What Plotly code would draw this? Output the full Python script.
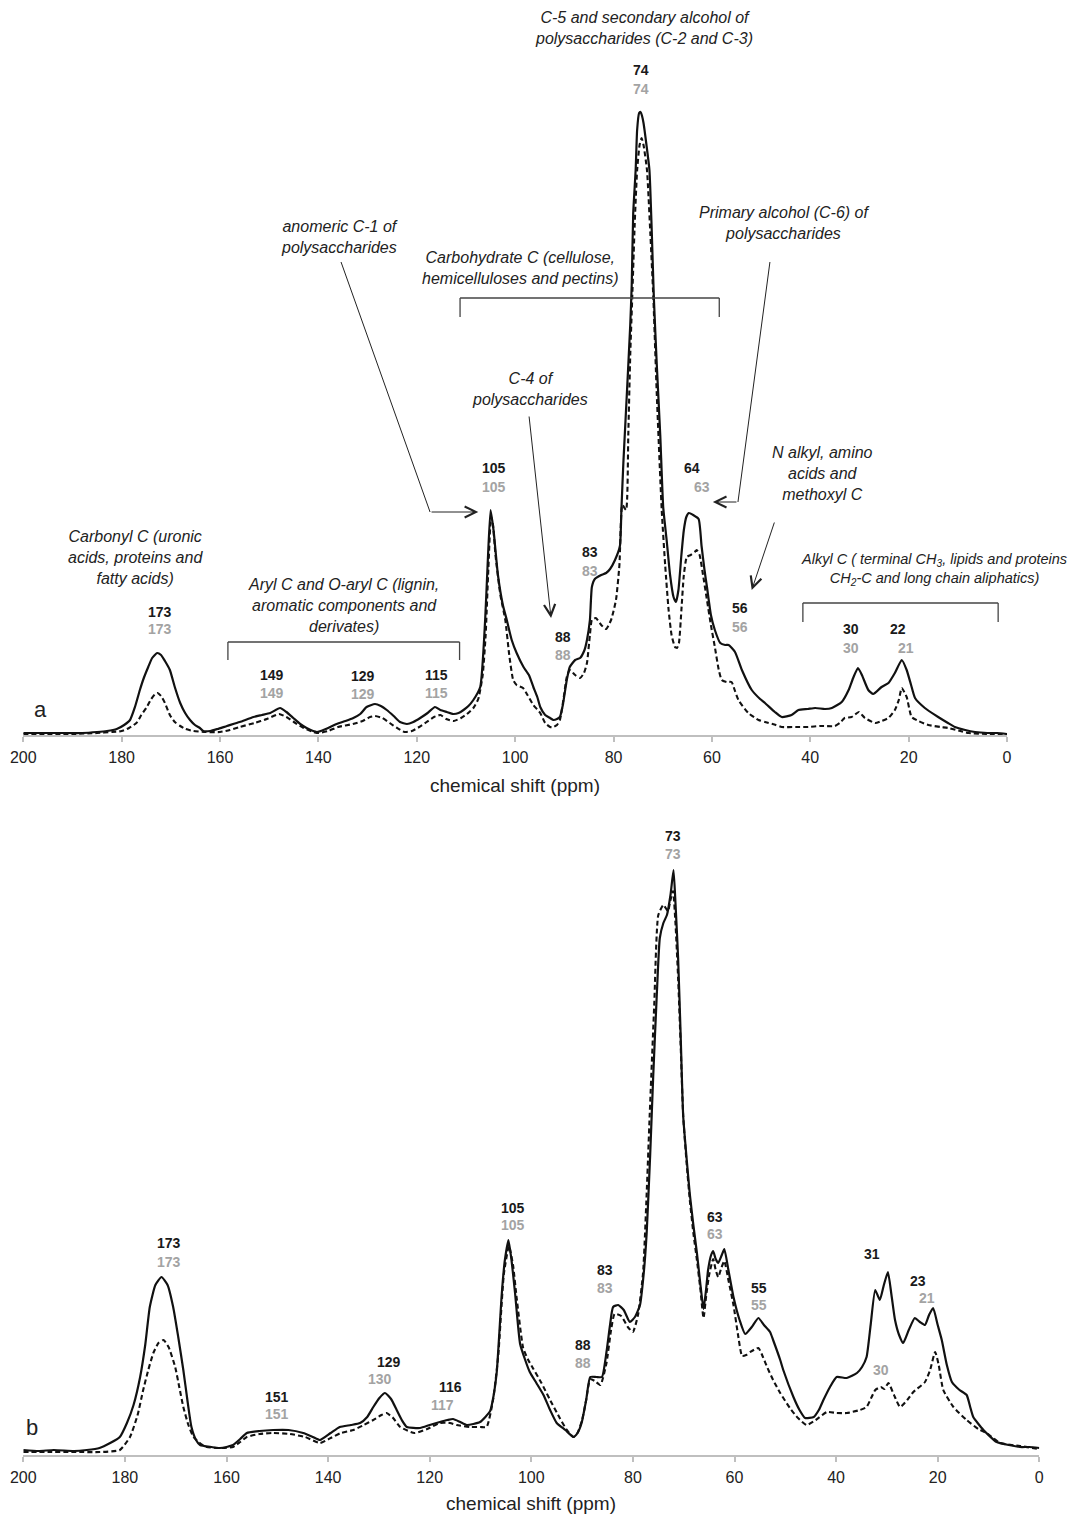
import plotly.graph_objects as go

# ---------------- DATA ----------------
# Panel a: solid spectrum (ppm, relative intensity)
a_solid_ppm = [200, 196, 192, 188, 185, 183, 181, 179.5, 178.3, 177.3, 176.3, 175.5, 174.6, 173.8, 172.8, 172.0, 171.2, 170.2,
               169.2, 168.1, 167.1, 166.1, 165.1, 164.1, 163.4, 162, 160.5, 158.6, 156, 153.2, 151.5, 149.8, 147.8, 146.5,
               145.1, 143.7, 142.4, 140.3, 138.5, 136.3, 134.5, 132.9, 131.5, 130.2, 128.5, 127.3, 126.1, 124.7, 123.4,
               122.0, 120.7, 119.3, 117.8, 116.3, 115.2, 113.9, 112.6, 111.5, 110.5, 109.5, 108.5, 107.1, 106.1, 105.6,
               105.0, 104.4, 103.5, 102.5, 101.7, 100.7, 99.7, 98.3, 97.2, 96.3, 95.5, 94.9, 93.9, 92.9, 92.2, 91.5, 90.9,
               90.3, 89.5, 88.9, 87.8, 86.8, 85.9, 85.4, 84.8, 84.4, 83.8, 82.5, 81.5, 80.7, 79.7, 78.7, 78.4, 78.0, 77.3,
               76.6, 76.3, 76.0, 75.5, 75.2, 74.8, 74.5, 74.2, 73.9, 73.3, 72.7, 72.2, 71.8, 71.2, 70.5, 69.9, 69.2, 68.5,
               67.8, 67.3, 66.8, 66.2, 65.7, 65.2, 64.7, 63.8, 62.7, 62.1, 61.5, 61.0, 60.2, 59.4, 58.3, 57.3, 56.6, 55.3,
               53.9, 51.9, 50.2, 49.2, 47.2, 45.8, 43.8, 42.4, 40.5, 39.0, 37, 35.6, 33.6, 32.2, 31.2, 30.3, 29.5, 28.2,
               27.2, 25.5, 24.1, 22.8, 21.4, 20.4, 19.5, 18.7, 16.7, 14.0, 12, 10.6, 8.5, 6.5, 4, 2, 0]
a_solid_int = [2, 2, 2, 2, 3, 4, 6, 10, 15, 28, 45, 57, 68, 77, 82, 80, 74, 65,
               48, 32, 22, 15, 10, 7, 4, 4, 6, 9, 13, 18, 20, 22, 27, 23,
               17, 11, 7, 3, 6, 11, 14, 17, 21, 28, 31, 29, 25, 19, 13,
               11, 13, 17, 22, 28, 25, 23, 21, 22, 25, 29, 35, 48, 115, 170,
               225, 205, 160, 130, 115, 95, 82, 68, 60, 48, 38, 28, 20, 17, 15, 16, 18,
               30, 55, 68, 75, 77, 85, 95, 115, 148, 156, 160, 162, 166, 175, 189, 225, 272, 340,
               410, 450, 521, 565, 605, 622, 623, 619, 612, 590, 565, 500, 437, 370, 300, 228, 195, 160,
               138, 133, 145, 180, 205, 218, 222, 220, 216, 189, 165, 148, 120, 105, 92, 90, 90, 83,
               65, 45, 36, 32, 23, 18, 20, 25, 26, 27, 26, 27, 33, 45, 58, 67, 60, 45,
               41, 48, 52, 62, 75, 65, 50, 37, 27, 18, 12, 8, 5, 3, 2, 2, 1]

# Panel a: dashed spectrum
a_dash_ppm = [200, 190, 185, 182, 180, 178.5, 177, 176, 175, 174, 173.2, 172.7, 172, 171.2, 170.2, 169.2, 168.1, 167,
              165.4, 163, 160, 158, 156, 153, 150.5, 148, 146.5, 145, 143, 141, 140, 138, 136, 133, 131, 129.5, 128.5,
              127, 125.5, 124, 122.5, 121, 119.5, 118, 116.5, 115.2, 114, 112.5, 111, 109.8, 108.5, 107.5, 106.6, 106,
              105.5, 104.9, 104.5, 104, 103, 102, 101.2, 100.4, 99.7, 98.4, 97.5, 96.3, 94.9, 93.9, 92.9, 92.2, 91.5,
              90.9, 90.2, 89.5, 88.9, 87.8, 86.8, 86, 85.4, 84.8, 84.4, 83.6, 82.5, 81.5, 80.5, 79.5, 78.8, 78.2, 77.45,
              77, 76.6, 76.2, 75.7, 75.2, 74.7, 74.3, 73.9, 73.2, 72.5, 71.9, 71.2, 70.2, 69.5, 68.8, 68.2, 67.5, 67.1,
              66.7, 66.2, 65.7, 65.1, 64.3, 63.5, 63.1, 62.5, 61.8, 61, 60.2, 59.4, 58.6, 58.0, 57, 56.0, 55.3, 54.6,
              52.6, 50.5, 49.2, 47, 45.8, 43, 40.4, 38, 35, 34, 33, 31.6, 30.1, 28.9, 26.8, 25.5, 24.1, 22.8, 22, 21.4,
              20.4, 19.4, 18, 16, 13.5, 11.9, 9.5, 7.8, 4, 0]
a_dash_int = [1, 1, 2, 3, 4, 7, 12, 20, 27, 36, 41, 42, 39, 32, 20, 13, 9, 6,
              4, 3, 3, 5, 8, 12, 16, 21, 18, 13, 7, 3, 2, 4, 8, 11, 14, 18, 19,
              17, 12, 7, 3, 4, 8, 13, 18, 20, 16, 14, 17, 21, 27, 36, 60, 100,
              160, 218, 210, 180, 140, 115, 80, 55, 50, 47, 40, 30, 22, 12, 8, 8, 10,
              15, 35, 58, 65, 60, 57, 62, 72, 100, 115, 117, 110, 106, 115, 135, 170, 230, 225,
              300, 380, 437, 510, 565, 590, 597, 590, 565, 500, 437, 340, 225, 170, 125, 100, 88, 87,
              92, 125, 160, 178, 180, 183, 185, 180, 160, 135, 110, 88, 65, 55, 53, 53, 44, 35,
              22, 15, 13, 10, 8, 8, 8, 9, 9, 12, 17, 18, 23, 17, 12, 14, 17, 25, 35, 47,
              38, 18, 14, 10, 8, 7, 4, 2, 1, 1]

# Panel b: solid spectrum
b_solid_ppm = [200, 197, 194, 190, 187.5, 185, 182.9, 181, 179.6, 178.3, 177.0, 176, 175.1, 174, 172.8, 171.6, 170.5,
               169.5, 168.5, 167.7, 166.9, 166, 165.2, 163, 161.3, 160, 158.7, 157.3, 156.0, 153.5, 150.8, 147.8, 144.9,
               143, 141.6, 139.5, 137.7, 135.5, 133.7, 132.3, 131.1, 129.9, 128.8, 127.6, 126.5, 125.5, 124.5, 121.9,
               120, 118.0, 116.5, 115.4, 114, 112.7, 110.1, 108.1, 107.4, 106.8, 105.8, 105.2, 104.5, 103.9, 103.2,
               102.2, 101.2, 100.3, 99, 97.6, 96.3, 95.0, 93.3, 91.7, 90.9, 90.1, 89.2, 88.4, 87.2, 86.1, 85.2, 84.5,
               83.9, 82.9, 81.8, 80.6, 79.6, 78.6, 77.9, 77.3, 76.6, 76.0, 75.3, 74.7, 74.0, 73.3, 72.6, 72.0, 71.6,
               71.1, 70.6, 70.1, 69.4, 68.8, 68.1, 67.4, 66.7, 66.1, 65.6, 65.2, 64.6, 64.2, 63.7, 63.2, 62.5, 62.0,
               61.2, 60.2, 59, 57.9, 56.6, 55.3, 54.2, 53.0, 52.4, 51.0, 50.4, 48.4, 47.2, 46.1, 44.4, 43.4, 42.5,
               41.2, 39.9, 37.9, 35.9, 34.9, 34.0, 33.2, 32.3, 31.4, 30.6, 29.8, 29.1, 28.4, 27.6, 26.8, 25.7, 24.5,
               23.5, 22.5, 21.7, 20.9, 20.0, 19.2, 18.2, 17.2, 15.7, 14.3, 13.6, 13.0, 11.0, 8.4, 6, 3.8, 2, 0]
b_solid_int = [5, 4, 5, 4, 5, 7, 12, 18, 32, 50, 78, 110, 148, 170, 178, 170, 148,
               118, 85, 55, 28, 15, 10, 8, 7, 8, 10, 16, 22, 24, 25, 25, 22,
               18, 15, 22, 28, 30, 32, 38, 48, 57, 62, 56, 45, 35, 28, 27,
               30, 33, 35, 36, 33, 30, 33, 44, 60, 83, 162, 195, 215, 195, 162,
               111, 95, 83, 72, 60, 45, 32, 25, 18, 22, 32, 55, 78, 78, 78, 103, 130,
               148, 150, 145, 133, 138, 150, 180, 221, 300, 379, 460, 517, 532, 540, 560, 585, 550,
               497, 420, 339, 295, 261, 230, 202, 170, 146, 165, 185, 200, 204, 196, 192, 200, 206,
               185, 158, 135, 121, 128, 137, 130, 123, 115, 95, 85, 58, 45, 37, 38, 45, 55,
               68, 78, 77, 82, 88, 98, 130, 165, 155, 170, 183, 160, 135, 120, 112, 125, 137,
               133, 130, 140, 147, 130, 115, 90, 73, 65, 60, 48, 38, 25, 13, 10, 8, 8, 7]

# Panel b: dashed spectrum
b_dash_ppm = [200, 195, 190, 185, 181, 179, 177.5, 176.4, 175.4, 174.4, 173.4, 172.4, 171.4, 170.1, 169.3, 168.5,
              167.5, 166.5, 165, 163.9, 161, 158.7, 157.3, 156, 153.5, 150.8, 147.5, 144.5, 141.6, 139.5, 137.5, 135,
              133, 131.1, 129.5, 128.5, 127.2, 125.8, 123, 120.5, 118, 116, 114.7, 112, 110, 108.8, 107.5, 106.5,
              105.4, 104.4, 103.6, 102.9, 101.6, 100.6, 99.7, 98, 96.4, 94.4, 93, 91.7, 90.9, 90, 89.2, 88.4, 87.5,
              86.4, 85.2, 84.3, 83.6, 82.3, 81, 80, 79, 78, 77.3, 76.7, 75.8, 75.0, 74.0, 73.1, 72.6, 72.1, 71.6,
              71.1, 70.6, 70.1, 69.4, 68.8, 68.1, 67.4, 66.7, 66.1, 65.6, 65.0, 64.2, 63.7, 63.2, 62.6, 62.0, 61.2,
              60.2, 59.3, 58.5, 57.7, 56.9, 55.3, 54.4, 53.5, 52.4, 51.0, 49.1, 47.5, 45.8, 44, 41.8, 39.9, 37.9,
              35.3, 34.0, 33, 32.3, 31.2, 30.5, 29.7, 28.6, 27.4, 26, 24.8, 22.5, 21.5, 20.5, 19.8, 18.9, 16.9, 14.3,
              12, 10.4, 7.7, 3.8, 0]
b_dash_int = [3, 3, 3, 3, 5, 18, 40, 65, 85, 102, 112, 115, 108, 88, 68, 48,
              30, 18, 11, 8, 7, 8, 13, 18, 21, 22, 21, 18, 12, 17, 22, 25,
              30, 35, 40, 42, 37, 28, 22, 26, 32, 32, 30, 28, 28, 28, 56, 100,
              181, 209, 190, 158, 107, 95, 87, 72, 56, 37, 25, 18, 22, 35, 55, 76, 74,
              70, 92, 125, 141, 139, 128, 123, 140, 182, 260, 339, 450, 540, 550, 544, 555, 564, 530,
              477, 410, 339, 290, 255, 222, 195, 165, 137, 158, 180, 196, 185, 178, 187, 194, 175,
              150, 120, 99, 100, 103, 107, 98, 87, 75, 62, 47, 37, 30, 35, 43, 42, 42,
              45, 48, 58, 65, 68, 66, 72, 60, 48, 55, 63, 73, 85, 103, 90, 65, 48, 35,
              26, 22, 12, 9, 6]

# Peak labels (ppm values written above peaks)
a_black_labels = ["173", "149", "129", "115", "105", "88", "83", "74", "64", "56", "30", "22"]
a_gray_labels = ["173", "149", "129", "115", "105", "88", "83", "74", "63", "56", "30", "21"]
b_black_labels = ["173", "151", "129", "116", "105", "88", "83", "73", "63", "55", "31", "23"]
b_gray_labels = ["173", "151", "130", "117", "105", "88", "83", "73", "63", "55", "30", "21"]

x_ticks = [200, 180, 160, 140, 120, 100, 80, 60, 40, 20, 0]

# ---------------- LAYOUT HELPERS ----------------
W, H = 1075, 1525
FONT = "Liberation Sans, Arial, sans-serif"

# label positions (ppm, intensity) for panel a / b
a_black_pos = [(172.3, 123), (149.5, 60), (130.9, 59), (115.9, 60), (104.4, 267), (90.3, 98), (84.8, 183),
               (74.4, 665), (64.0, 267), (54.3, 127), (31.7, 106), (22.2, 106)]
a_gray_pos = [(172.3, 106), (149.5, 42), (130.9, 41), (115.9, 42), (104.4, 248), (90.3, 80), (84.8, 164),
              (74.4, 646), (62.1, 248), (54.3, 108), (31.7, 87), (20.5, 87)]
b_black_pos = [(171.3, 212), (150.0, 58), (128.1, 93), (116.0, 68), (103.7, 247), (89.9, 110), (85.5, 185),
               (72.1, 619), (63.8, 238), (55.2, 167), (33.0, 201), (23.9, 174)]
b_gray_pos = [(171.3, 193), (150.0, 41), (129.8, 76), (117.4, 50), (103.7, 230), (89.9, 92), (85.5, 167),
              (72.1, 601), (63.8, 221), (55.2, 150), (31.1, 85), (22.2, 157)]

fig = go.Figure()

SOLID = dict(color="#111111", width=2.2, shape="spline", smoothing=0.5)
DASH = dict(color="#111111", width=2.1, dash="5px,3px", shape="spline", smoothing=0.5)
fig.add_trace(go.Scatter(x=a_solid_ppm, y=a_solid_int, mode="lines", xaxis="x", yaxis="y", line=SOLID,
                         hoverinfo="skip"))
fig.add_trace(go.Scatter(x=a_dash_ppm, y=a_dash_int, mode="lines", xaxis="x", yaxis="y", line=DASH,
                         hoverinfo="skip"))
fig.add_trace(go.Scatter(x=b_solid_ppm, y=b_solid_int, mode="lines", xaxis="x2", yaxis="y2", line=SOLID,
                         hoverinfo="skip"))
fig.add_trace(go.Scatter(x=b_dash_ppm, y=b_dash_int, mode="lines", xaxis="x2", yaxis="y2", line=DASH,
                         hoverinfo="skip"))

axis_common = dict(range=[200, 0], tickvals=x_ticks, ticktext=[str(t) for t in x_ticks], showgrid=False,
                   zeroline=False, showline=True, linecolor="#bfbfbf", linewidth=1.5, ticks="outside",
                   ticklen=5, tickcolor="#bfbfbf", tickwidth=1.5, tickfont=dict(family=FONT, size=16, color="#222"),
                   ticklabelstandoff=2, fixedrange=True, automargin=False)

fig.update_layout(
    width=W, height=H, margin=dict(l=0, r=0, t=0, b=0, autoexpand=False),
    paper_bgcolor="white", plot_bgcolor="white", showlegend=False,
    xaxis=dict(domain=[23.3 / W, 1007 / W], anchor="y", **axis_common),
    yaxis=dict(domain=[(H - 735) / H, (H - 15) / H], range=[0, 720], visible=False, fixedrange=True,
               automargin=False),
    xaxis2=dict(domain=[23.3 / W, 1039.3 / W], anchor="y2", **axis_common),
    yaxis2=dict(domain=[(H - 1455) / H, (H - 800) / H], range=[0, 655], visible=False, fixedrange=True,
                automargin=False),
)

ann = []
def lab(x, y, text, ref, color, bold=True, size=14):
    t = "<b>%s</b>" % text if bold else text
    ann.append(dict(x=x, y=y, xref=ref[0], yref=ref[1], text=t, showarrow=False, xanchor="center",
                    yanchor="middle", font=dict(family=FONT, size=size, color=color)))

for t, p in zip(a_black_labels, a_black_pos):
    lab(p[0], p[1], t, ("x", "y"), "#1a1a1a")
for t, p in zip(a_gray_labels, a_gray_pos):
    lab(p[0], p[1], t, ("x", "y"), "#a3a3a3")
for t, p in zip(b_black_labels, b_black_pos):
    lab(p[0], p[1], t, ("x2", "y2"), "#1a1a1a")
for t, p in zip(b_gray_labels, b_gray_pos):
    lab(p[0], p[1], t, ("x2", "y2"), "#a3a3a3")

# italic annotation texts (panel a)
notes = [
    (73.8, 707, "C-5 and secondary alcohol of<br>polysaccharides (C-2 and C-3)", 16),
    (135.8, 498, "anomeric C-1 of<br>polysaccharides", 16),
    (99.0, 467, "Carbohydrate C (cellulose,<br>hemicelluloses and pectins)", 16),
    (45.3, 512, "Primary alcohol (C-6) of<br>polysaccharides", 16),
    (97.0, 346, "C-4 of<br>polysaccharides", 16),
    (37.6, 262, "N alkyl, amino<br>acids and<br>methoxyl C", 16),
    (14.8, 166, "Alkyl C ( terminal CH<sub>3</sub>, lipids and proteins<br>CH<sub>2</sub>-C and long chain aliphatics)", 14.5),
    (135.0, 130, "Aryl C and O-aryl C (lignin,<br>aromatic components and<br>derivates)", 16),
    (177.1, 178, "Carbonyl C (uronic<br>acids, proteins and<br>fatty acids)", 16),
]
for x, y, t, s in notes:
    ann.append(dict(x=x, y=y, xref="x", yref="y", text="<i>%s</i>" % t, showarrow=False, xanchor="center",
                    yanchor="middle", align="center", font=dict(family=FONT, size=s, color="#222")))

# arrows (final segments)
arrows = [
    (107.5, 223, 117.3, 223),   # anomeric -> 105
    (59.8, 233, 54.7, 233),     # primary alcohol -> 63
    (92.7, 117, 97.2, 320),     # C-4
    (51.9, 145, 47.2, 214),     # N alkyl
]
for x, y, ax, ay in arrows:
    ann.append(dict(x=x, y=y, ax=ax, ay=ay, xref="x", yref="y", axref="x", ayref="y", text="", showarrow=True,
                    arrowhead=5, arrowsize=2.2, arrowwidth=1, arrowcolor="#222"))

# panel letters and axis titles
for x, y, t, s in [(40.7, 709, "a", 22), (31.7, 1427, "b", 22), (515, 785, "chemical shift (ppm)", 19),
                   (531, 1503, "chemical shift (ppm)", 19)]:
    ann.append(dict(x=x / W, y=(H - y) / H, xref="paper", yref="paper", text=t, showarrow=False,
                    xanchor="center", yanchor="middle", font=dict(family=FONT, size=s, color="#222")))

shapes = []
def seg(x0, y0, x1, y1, color="#222", w=1):
    shapes.append(dict(type="line", x0=x0, y0=y0, x1=x1, y1=y1, xref="x", yref="y",
                       line=dict(color=color, width=w)))

# bent arrow leader lines
seg(135.4, 473, 117.3, 223)
seg(48.2, 473, 54.7, 233)
# brackets
for x0, x1, yt, yb in [(158.4, 111.3, 93, 75), (111.2, 58.5, 437, 418), (41.5, 1.8, 132, 113)]:
    seg(x0, yt, x1, yt, "#444", 1.3)
    seg(x0, yt, x0, yb, "#444", 1.3)
    seg(x1, yt, x1, yb, "#444", 1.3)

fig.update_layout(annotations=ann, shapes=shapes)
fig.write_html("out.html")
